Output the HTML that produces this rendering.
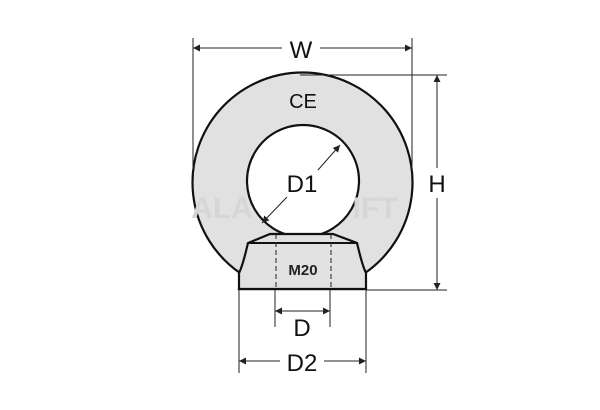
<!DOCTYPE html>
<html><head><style>html,body{margin:0;padding:0;background:#fff}svg{display:block}</style></head>
<body>
<svg width="600" height="410" viewBox="0 0 600 410" xmlns="http://www.w3.org/2000/svg" font-family="'Liberation Sans', 'DejaVu Sans', sans-serif">
<defs>
<marker id="a" viewBox="0 0 10 10" refX="10" refY="5" markerWidth="12" markerHeight="7" orient="auto-start-reverse" markerUnits="userSpaceOnUse"><path d="M0,0 L10,5 L0,10 z" fill="#222"/></marker>
</defs>
<path fill-rule="evenodd" fill="#e1e1e1" stroke="#111" stroke-width="2.2"
 d="M240,273 A110,110 0 1 1 365,273 L366,289 L239,289 Z M303,125 A56,56 0 1 0 303.01,125 Z"/>
<path d="M270,234 L333,234 L357,243 C360,255 362,265 366,273 L366,289 L239,289 L239,273 C243,265 245,255 248,243 Z" fill="#e1e1e1" stroke="#111" stroke-width="2.2"/>
<path d="M248,243 L357,243" stroke="#111" stroke-width="2"/>
<text x="222" y="218" font-size="30" font-weight="bold" fill="#d6d6d6" text-anchor="middle">ALA</text>
<text x="375" y="218" font-size="30" font-weight="bold" fill="#d6d6d6" text-anchor="middle">IFT</text>
<line x1="276" y1="234" x2="276" y2="289" stroke="#222" stroke-width="1" stroke-dasharray="5,3"/>
<line x1="331" y1="234" x2="331" y2="289" stroke="#222" stroke-width="1" stroke-dasharray="5,3"/>
<text x="303" y="275" font-size="15" font-weight="bold" text-anchor="middle" fill="#222">M20</text>
<text x="303" y="108" font-size="20" text-anchor="middle" fill="#111">CE</text>
<line x1="318" y1="170" x2="340" y2="145" stroke="#222" stroke-width="1" marker-end="url(#a)"/>
<line x1="287" y1="197" x2="262" y2="223" stroke="#222" stroke-width="1" marker-end="url(#a)"/>
<text x="302" y="192" font-size="24" text-anchor="middle" fill="#111">D1</text>
<line x1="193" y1="38" x2="193" y2="170" stroke="#222" stroke-width="1"/>
<line x1="412" y1="38" x2="412" y2="170" stroke="#222" stroke-width="1"/>
<line x1="193" y1="48" x2="282" y2="48" stroke="#222" stroke-width="1" marker-start="url(#a)"/>
<line x1="320" y1="48" x2="412" y2="48" stroke="#222" stroke-width="1" marker-end="url(#a)"/>
<text x="301" y="58" font-size="24" text-anchor="middle" fill="#111">W</text>
<line x1="300" y1="75" x2="447" y2="75" stroke="#222" stroke-width="1"/>
<line x1="366" y1="290" x2="447" y2="290" stroke="#222" stroke-width="1"/>
<line x1="437" y1="75" x2="437" y2="168" stroke="#222" stroke-width="1" marker-start="url(#a)"/>
<line x1="437" y1="198" x2="437" y2="290" stroke="#222" stroke-width="1" marker-end="url(#a)"/>
<text x="437" y="192" font-size="24" text-anchor="middle" fill="#111">H</text>
<line x1="275" y1="290" x2="275" y2="327" stroke="#222" stroke-width="1"/>
<line x1="330" y1="290" x2="330" y2="327" stroke="#222" stroke-width="1"/>
<line x1="275" y1="311" x2="330" y2="311" stroke="#222" stroke-width="1" marker-start="url(#a)" marker-end="url(#a)"/>
<text x="302" y="336" font-size="24" text-anchor="middle" fill="#111">D</text>
<line x1="239" y1="290" x2="239" y2="373" stroke="#222" stroke-width="1"/>
<line x1="366" y1="290" x2="366" y2="373" stroke="#222" stroke-width="1"/>
<line x1="239" y1="361" x2="280" y2="361" stroke="#222" stroke-width="1" marker-start="url(#a)"/>
<line x1="324" y1="361" x2="366" y2="361" stroke="#222" stroke-width="1" marker-end="url(#a)"/>
<text x="302" y="371" font-size="24" text-anchor="middle" fill="#111">D2</text>
</svg>
</body></html>
